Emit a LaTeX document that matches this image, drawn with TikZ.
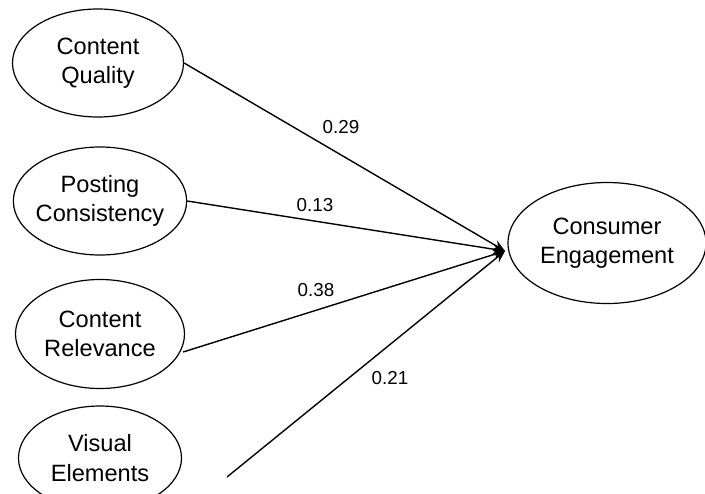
\documentclass[tikz,border=0pt]{standalone}
\usepackage{fontspec}
\setmainfont{Liberation Sans}
\usetikzlibrary{shapes.geometric,arrows.meta}

\begin{document}
\begin{tikzpicture}[x=0.5pt,y=-0.5pt,
  every node/.style={draw,ellipse,line width=0.6pt,align=center,inner ysep=0pt,inner xsep=-1.5pt,
    font=\fontsize{11.8}{14.6}\selectfont},
  weight/.style={draw=none,ellipse=false,rectangle,inner sep=0pt,font=\fontsize{9.4}{11}\selectfont},
  path/.style={line width=0.7pt,-{Stealth[length=6pt,width=5pt]}}]
\clip (0,0) rectangle (705,493);
\node[minimum width=171*0.5pt,minimum height=108*0.5pt] (quality) at (98,63) {Content\\Quality};
\node[minimum width=169*0.5pt,minimum height=108*0.5pt] (posting) at (100,201) {Posting\\Consistency};
\node[minimum width=169*0.5pt,minimum height=109*0.5pt] (relevance) at (100,334) {Content\\Relevance};
\node[minimum width=163*0.5pt,minimum height=104*0.5pt] (visual) at (100,458) {Visual\\Elements};
\node[minimum width=198*0.5pt,minimum height=121*0.5pt] (engage) at (607,243) {Consumer\\Engagement};
\coordinate (hub) at (505,251);
\coordinate (vstart) at (227,477);

\draw[path] (quality.east) -- (hub);
\draw[path] (posting.east) -- (hub);
\draw[path] (relevance.east) ++(-2,18) -- (hub);
\draw[path] (vstart) -- (hub);

\node[weight] (w1) at (341,127) {0.29};
\node[weight] (w2) at (315,205) {0.13};
\node[weight] (w3) at (316,290) {0.38};
\node[weight] (w4) at (390,378) {0.21};
\end{tikzpicture}
\end{document}
